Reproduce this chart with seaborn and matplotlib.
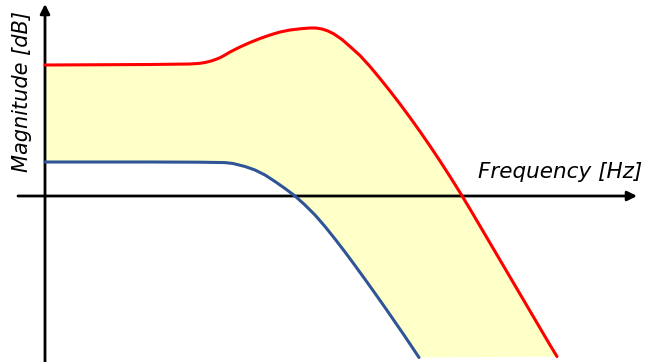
import matplotlib
matplotlib.use("Agg")
import matplotlib.pyplot as plt
import seaborn as sns

# curve shapes (pixel-like units, y grows downward)
upper_x = [45, 150, 190, 200, 205, 210, 215, 220, 225, 230, 240, 250, 260, 270, 280, 290,
           300, 310, 316, 322, 328, 334, 342, 350, 360, 370, 380, 390, 400, 410, 420, 430,
           440, 450, 460, 470, 480, 490, 500, 510, 520, 530, 540, 550, 557]
upper_y = [65, 64.5, 64, 63.3, 62.5, 61.3, 59.7, 57.7, 55, 52, 47, 42.5, 38.5, 35, 32, 30,
           28.8, 28, 28, 29, 31, 34, 39.5, 46.5, 55.5, 66.5, 78.5, 91, 104, 117.5, 131.5, 146,
           161, 176.5, 192.5, 209, 226, 243, 260, 277, 294, 311, 328, 345, 356.5]
lower_x = [45, 150, 200, 225, 233, 245, 255, 265, 275, 285, 295, 305, 315, 325, 335, 345,
           355, 365, 375, 385, 395, 405, 413, 419]
lower_y = [162, 162, 162.2, 162.6, 163.5, 166.5, 170, 175, 181.5, 188.5, 196, 205, 215, 226.5, 239, 252,
           265.5, 279.3, 293.3, 307.5, 322, 336.5, 348.5, 357.5]

x_label = "Frequency [Hz]"
y_label = "Magnitude [dB]"

sns.set_style("white")
plt.rcParams['font.family'] = ['DejaVu Sans']

fig = plt.figure(figsize=(6.45, 3.62), dpi=100)
ax = fig.add_axes([0, 0, 1, 1])
ax.set_xlim(0, 645)
ax.set_ylim(362, 0)
ax.axis("off")

# band between the two curves
ax.fill(upper_x + lower_x[::-1], upper_y + lower_y[::-1], color="#FFFFC8", lw=0, zorder=1)

sns.lineplot(x=upper_x, y=upper_y, sort=False, color="#FF0000", lw=2.2, ax=ax, zorder=3)
sns.lineplot(x=lower_x, y=lower_y, sort=False, color="#2F5597", lw=2.2, ax=ax, zorder=3)

# axes with arrow heads
arrow = dict(arrowstyle="-|>", color="black", lw=2, mutation_scale=14, shrinkA=0, shrinkB=0)
ax.annotate("", xy=(637, 196), xytext=(18, 196), arrowprops=arrow, zorder=2)
ax.annotate("", xy=(45, 4), xytext=(45, 362), arrowprops=arrow, zorder=2)

ax.text(642, 172, x_label, fontsize=15.5, style="italic", color="black", ha="right", va="center")
ax.text(22, 92, y_label, fontsize=15, style="italic", color="black", rotation=90,
        ha="center", va="center")

fig.savefig("out.png", dpi=100)
